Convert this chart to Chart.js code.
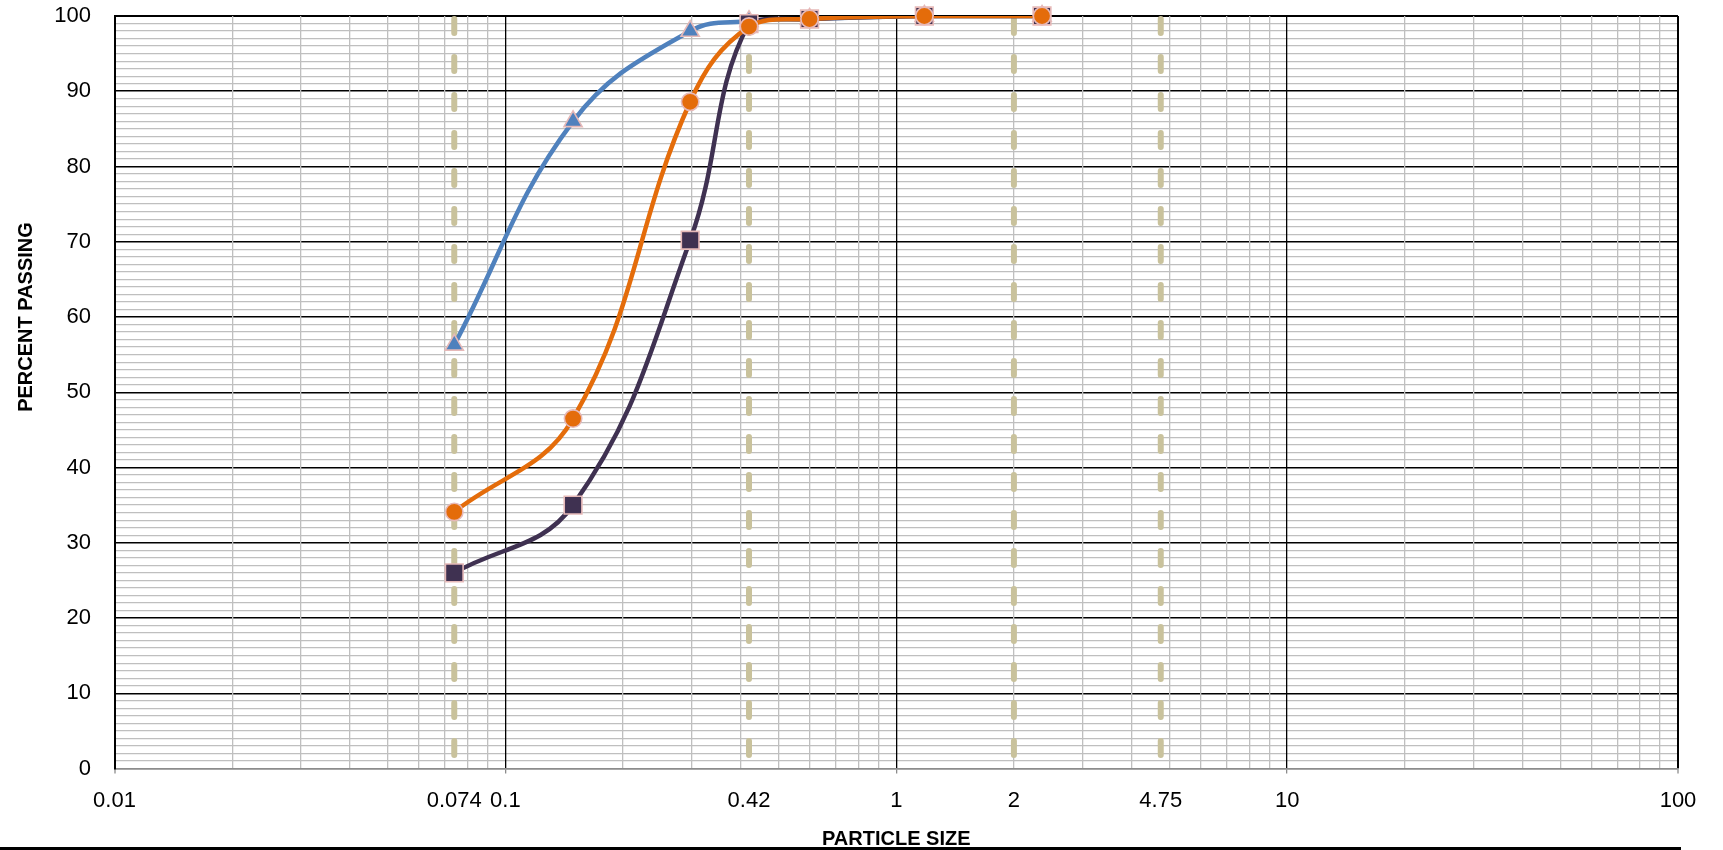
<!DOCTYPE html>
<html>
<head>
<meta charset="utf-8">
<title>Particle size distribution</title>
<script src="https://cdn.jsdelivr.net/npm/chart.js@4/dist/chart.umd.min.js"></script>
<style>
  html, body { margin: 0; padding: 0; background: #fff; }
  #wrap { width: 1723px; height: 850px; position: relative; }
  canvas { display: block; background: #fff; }
</style>
</head>
<body>
<div id="wrap"><canvas id="gradation" width="1723" height="850"></canvas></div>
<script>
// Sieve openings (mm) and percent passing for the three samples
const sieveOpenings = [0.074, 0.149, 0.297, 0.42, 0.6, 1.18, 2.36];
const passingTriangle = [56.3, 86.0, 98.0, 99.3, 99.6, 100, 100];
const passingSquare   = [26.0, 35.0, 70.2, 99.0, 99.6, 100, 100];
const passingCircle   = [34.1, 46.5, 88.6, 98.6, 99.6, 100, 100];

// Vertical reference lines at the key sieve sizes
const referenceSizes = [0.074, 0.42, 2, 4.75];

// Axis labels
const xTickLabels = [0.01, 0.074, 0.1, 0.42, 1, 2, 4.75, 10, 100];
const yTickLabels = [0, 10, 20, 30, 40, 50, 60, 70, 80, 90, 100];
const xTitle = 'PARTICLE SIZE';
const yTitle = 'PERCENT PASSING';

// Log-paper grid: decades plus 2..9 subdivisions, and 1% steps vertically
const xDecades = [0.01, 0.1, 1, 10, 100];
const xGrid = [];
for (let k = -2; k <= 1; k++) {
  for (let m = 1; m <= 9; m++) xGrid.push(parseFloat((m * Math.pow(10, k)).toPrecision(6)));
}
xGrid.push(100);
const xGridSet = new Set(xGrid);
const xTickValues = Array.from(new Set(xGrid.concat(xTickLabels))).sort((a, b) => a - b);
const yTickValues = [];
for (let v = 0; v <= 100; v++) yTickValues.push(v);

const FONT = '"Liberation Sans", Arial, sans-serif';
const MARK_EDGE = '#E6B9B8';
const MINOR = '#BFBFBF';
const AXIS_GREY = '#8C8C8C';
const NONE = 'rgba(0,0,0,0)';

const pts = (ys) => sieveOpenings.map((x, i) => ({ x: x, y: ys[i] }));

function curve(label, color, ys, order) {
  return {
    label: label, data: pts(ys), borderColor: color, backgroundColor: color,
    borderWidth: 4.5, tension: 0.4, pointRadius: 0, pointHoverRadius: 0,
    borderCapStyle: 'round', borderJoinStyle: 'round', order: order
  };
}
function markers(label, color, ys, style, radius, order) {
  return {
    label: label, data: pts(ys), showLine: false, clip: false,
    pointStyle: style, pointRadius: radius, pointHoverRadius: radius,
    pointBackgroundColor: color, pointBorderColor: MARK_EDGE, pointBorderWidth: 1.6,
    borderColor: color, backgroundColor: color, order: order
  };
}

const datasets = [];
referenceSizes.forEach((s) => {
  datasets.push({
    label: 'ref ' + s, data: [{ x: s, y: 100 }, { x: s, y: 0 }],
    borderColor: '#C9C29C', borderWidth: 6, borderDash: [14, 24], borderDashOffset: -3,
    borderCapStyle: 'round', pointRadius: 0, pointHoverRadius: 0, tension: 0, order: 20
  });
});
datasets.push(curve('Sample A', '#4F81BD', passingTriangle, 9));
datasets.push(markers('Sample A pts', '#4F81BD', passingTriangle, 'triangle', 10.5, 8));
datasets.push(curve('Sample B', '#3F3151', passingSquare, 7));
datasets.push(markers('Sample B pts', '#3F3151', passingSquare, 'rect', 12.5, 6));
datasets.push(curve('Sample C', '#E46C0A', passingCircle, 5));
datasets.push(markers('Sample C pts', '#E46C0A', passingCircle, 'circle', 8.7, 4));

// Axis titles and the rule under the chart
const frame = {
  id: 'frame',
  afterDraw(chart) {
    const { ctx, chartArea } = chart;
    ctx.save();
    ctx.fillStyle = '#000';
    ctx.font = 'bold 20px ' + FONT;
    ctx.textAlign = 'center';
    ctx.textBaseline = 'middle';
    ctx.fillText(xTitle, (chartArea.left + chartArea.right) / 2, chart.height - 11);
    ctx.save();
    ctx.translate(26, chartArea.top + 0.4 * (chartArea.bottom - chartArea.top));
    ctx.rotate(-Math.PI / 2);
    ctx.fillText(yTitle, 0, 0);
    ctx.restore();
    ctx.fillRect(0, chart.height - 3, chartArea.right + 3, 3);
    ctx.restore();
  }
};

Chart.defaults.font.family = FONT;

new Chart(document.getElementById('gradation'), {
  type: 'line',
  data: { datasets: datasets },
  plugins: [frame],
  options: {
    responsive: false,
    animation: false,
    devicePixelRatio: 1,
    events: [],
    layout: { padding: { top: 16, right: 45, left: 0, bottom: 0 } },
    plugins: { legend: { display: false }, tooltip: { enabled: false } },
    scales: {
      x: {
        type: 'logarithmic', min: 0.01, max: 100,
        afterBuildTicks: (s) => { s.ticks = xTickValues.map((v) => ({ value: v })); },
        afterFit: (s) => { s.height = 81.5; },
        ticks: {
          autoSkip: false, maxRotation: 0, minRotation: 0, padding: 14, color: '#000',
          font: { size: 22 },
          callback: (v) => (xTickLabels.includes(v) ? String(v) : '')
        },
        grid: {
          z: -1,
          drawTicks: true, tickLength: 5,
          color: (c) => {
            const v = c.tick.value;
            if (!xGridSet.has(v)) return NONE;
            return xDecades.includes(v) ? '#000' : MINOR;
          },
          lineWidth: (c) => {
            const v = c.tick.value;
            if (v === 0.01 || v === 100) return 2;
            return 1.3;
          },
          tickColor: (c) => (xDecades.includes(c.tick.value) ? AXIS_GREY : NONE),
          tickWidth: 1.3
        },
        border: { color: AXIS_GREY, width: 1.5 }
      },
      y: {
        type: 'linear', min: 0, max: 100,
        afterBuildTicks: (s) => { s.ticks = yTickValues.map((v) => ({ value: v })); },
        afterFit: (s) => { s.width = 114.5; },
        ticks: {
          autoSkip: false, padding: 0, color: '#000',
          font: { size: 22 },
          callback: (v) => (yTickLabels.includes(v) ? String(v) : '')
        },
        grid: {
          z: -2,
          drawTicks: true, tickLength: 23.5, tickColor: NONE,
          color: (c) => {
            const v = c.tick.value;
            if (v === 0) return AXIS_GREY;
            return v % 10 === 0 ? '#000' : MINOR;
          },
          lineWidth: (c) => {
            const v = c.tick.value;
            if (v === 100) return 2;
            return v % 10 === 0 ? 1.5 : 1.3;
          }
        },
        border: { color: '#000', width: 2 }
      }
    }
  }
});
</script>
</body>
</html>
